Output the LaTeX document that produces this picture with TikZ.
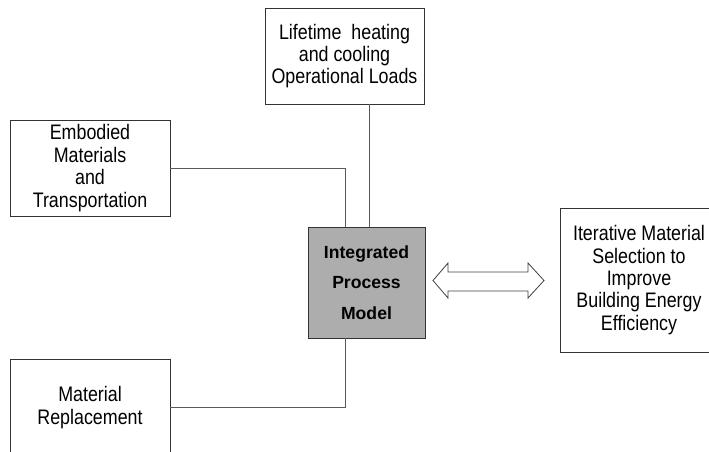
\documentclass[tikz,border=0pt]{standalone}
\usepackage{fontspec}
\setmainfont{Liberation Sans}[FakeStretch=0.85]
\newfontfamily\plainsans{Liberation Sans}
\begin{document}
\begin{tikzpicture}[x=1pt,y=-1pt,
  box/.style={draw=black!80, line width=0.9pt, fill=white, align=center, inner sep=0pt,
    font=\fontsize{21}{22.4}\selectfont},
  conn/.style={draw=black!65, line width=0.9pt}]
\useasboundingbox (0,0) rectangle (709,452);
\node[box, minimum width=159pt, minimum height=96pt] (top) at (344.5,56) {Lifetime\ \ heating\\and cooling\\Operational Loads};
\node[box, minimum width=160pt, minimum height=96pt] (emb) at (90,168) {Embodied\\Materials\\and\\Transportation};
\node[box, fill=black!32, minimum width=117pt, minimum height=111pt,
  font=\plainsans\bfseries\fontsize{17.6}{30.5}\selectfont] (model) at (366.5,282.5) {Integrated\\Process\\Model};
\node[box, minimum width=158pt, minimum height=144pt] (iter) at (639,280) {Iterative Material\\Selection to\\Improve\\Building Energy\\Efficiency};
\node[box, minimum width=160pt, minimum height=97pt] (rep) at (90,407.5) {Material\\Replacement};
\coordinate (c1) at (369,0);
\coordinate (c2) at (345,0);
\draw[conn] (c1 |- top.south) -- (c1 |- model.north);
\draw[conn] (emb.east) -| (c2 |- model.north);
\draw[conn] (c2 |- model.south) |- (rep.east);
\draw[draw=black!75, line width=0.8pt, fill=white]
  (433,280.5) -- (448,263) -- (448,272) -- (528,272) -- (528,263) -- (544,280.5)
  -- (528,298) -- (528,291) -- (448,291) -- (448,298) -- cycle;
\end{tikzpicture}
\end{document}
